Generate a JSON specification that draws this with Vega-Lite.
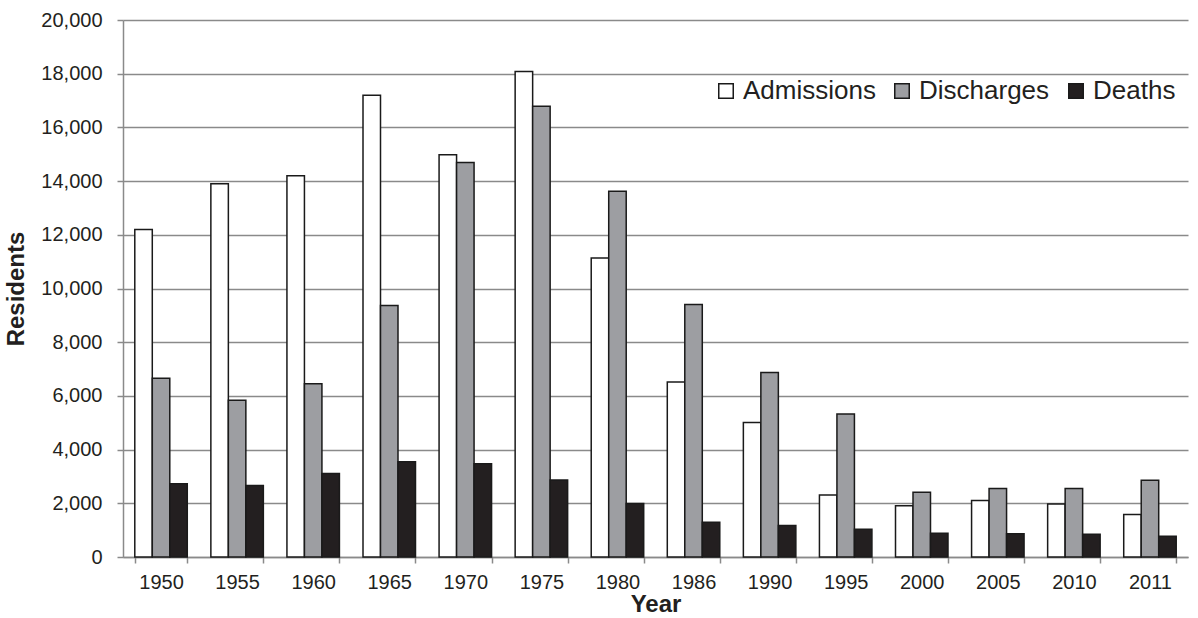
{
  "$schema": "https://vega.github.io/schema/vega-lite/v6.json",
  "width": 1065,
  "height": 537,
  "autosize": {"type": "none"},
  "padding": {"left": 123, "top": 20, "right": 10, "bottom": 61},
  "background": "white",
  "config": {
    "font": "Liberation Sans",
    "view": {"stroke": null}
  },
  "data": {
    "values": [
      {"year": "1950", "series": "Admissions", "value": 12200},
      {"year": "1950", "series": "Discharges", "value": 6660},
      {"year": "1950", "series": "Deaths", "value": 2730},
      {"year": "1955", "series": "Admissions", "value": 13900},
      {"year": "1955", "series": "Discharges", "value": 5840},
      {"year": "1955", "series": "Deaths", "value": 2660},
      {"year": "1960", "series": "Admissions", "value": 14200},
      {"year": "1960", "series": "Discharges", "value": 6450},
      {"year": "1960", "series": "Deaths", "value": 3110},
      {"year": "1965", "series": "Admissions", "value": 17200},
      {"year": "1965", "series": "Discharges", "value": 9370},
      {"year": "1965", "series": "Deaths", "value": 3550},
      {"year": "1970", "series": "Admissions", "value": 14980},
      {"year": "1970", "series": "Discharges", "value": 14690},
      {"year": "1970", "series": "Deaths", "value": 3470},
      {"year": "1975", "series": "Admissions", "value": 18080},
      {"year": "1975", "series": "Discharges", "value": 16790},
      {"year": "1975", "series": "Deaths", "value": 2870},
      {"year": "1980", "series": "Admissions", "value": 11140},
      {"year": "1980", "series": "Discharges", "value": 13620},
      {"year": "1980", "series": "Deaths", "value": 1990},
      {"year": "1986", "series": "Admissions", "value": 6520},
      {"year": "1986", "series": "Discharges", "value": 9400},
      {"year": "1986", "series": "Deaths", "value": 1290},
      {"year": "1990", "series": "Admissions", "value": 5010},
      {"year": "1990", "series": "Discharges", "value": 6870},
      {"year": "1990", "series": "Deaths", "value": 1170},
      {"year": "1995", "series": "Admissions", "value": 2310},
      {"year": "1995", "series": "Discharges", "value": 5330},
      {"year": "1995", "series": "Deaths", "value": 1030},
      {"year": "2000", "series": "Admissions", "value": 1910},
      {"year": "2000", "series": "Discharges", "value": 2410},
      {"year": "2000", "series": "Deaths", "value": 880},
      {"year": "2005", "series": "Admissions", "value": 2100},
      {"year": "2005", "series": "Discharges", "value": 2550},
      {"year": "2005", "series": "Deaths", "value": 870},
      {"year": "2010", "series": "Admissions", "value": 1970},
      {"year": "2010", "series": "Discharges", "value": 2550},
      {"year": "2010", "series": "Deaths", "value": 850},
      {"year": "2011", "series": "Admissions", "value": 1580},
      {"year": "2011", "series": "Discharges", "value": 2860},
      {"year": "2011", "series": "Deaths", "value": 770}
    ]
  },
  "mark": {"type": "bar", "stroke": "#1a1a1a", "strokeWidth": 1.5},
  "encoding": {
    "x": {
      "field": "year",
      "type": "nominal",
      "sort": null,
      "scale": {"paddingInner": 0.31, "paddingOuter": 0.155},
      "axis": {
        "title": "Year",
        "titleFontSize": 24,
        "titleFontWeight": "bold",
        "titleColor": "#231f20",
        "titlePadding": 0,
        "labelAngle": 0,
        "labelFontSize": 20,
        "labelColor": "#231f20",
        "labelPadding": 9,
        "tickBand": "extent",
        "tickColor": "#8a8a8a",
        "tickWidth": 1.5,
        "tickSize": 6,
        "domainColor": "#8a8a8a",
        "domainWidth": 1.5
      }
    },
    "xOffset": {
      "field": "series",
      "type": "nominal",
      "sort": ["Admissions", "Discharges", "Deaths"],
      "scale": {"paddingInner": 0, "paddingOuter": 0}
    },
    "y": {
      "field": "value",
      "type": "quantitative",
      "scale": {"domain": [0, 20000], "nice": false},
      "axis": {
        "title": "Residents",
        "titleFontSize": 24,
        "titleFontWeight": "bold",
        "titleColor": "#231f20",
        "titlePadding": 12,
        "values": [0, 2000, 4000, 6000, 8000, 10000, 12000, 14000, 16000, 18000, 20000],
        "format": ",d",
        "labelFontSize": 20,
        "labelColor": "#231f20",
        "labelPadding": 15,
        "grid": true,
        "gridColor": "#8a8a8a",
        "gridWidth": 1.5,
        "tickColor": "#8a8a8a",
        "tickWidth": 1.5,
        "tickSize": 6,
        "domainColor": "#8a8a8a",
        "domainWidth": 1.5
      }
    },
    "color": {
      "field": "series",
      "type": "nominal",
      "scale": {
        "domain": ["Admissions", "Discharges", "Deaths"],
        "range": ["#ffffff", "#9d9ea2", "#231f20"]
      },
      "legend": {
        "title": null,
        "orient": "none",
        "legendX": 590,
        "legendY": 58,
        "direction": "horizontal",
        "symbolType": "square",
        "symbolSize": 210,
        "symbolStrokeColor": "#1a1a1a",
        "symbolStrokeWidth": 1.5,
        "labelFontSize": 26,
        "labelColor": "#231f20",
        "labelOffset": 4,
        "columnPadding": 13,
        "symbolOpacity": 1
      }
    }
  }
}
